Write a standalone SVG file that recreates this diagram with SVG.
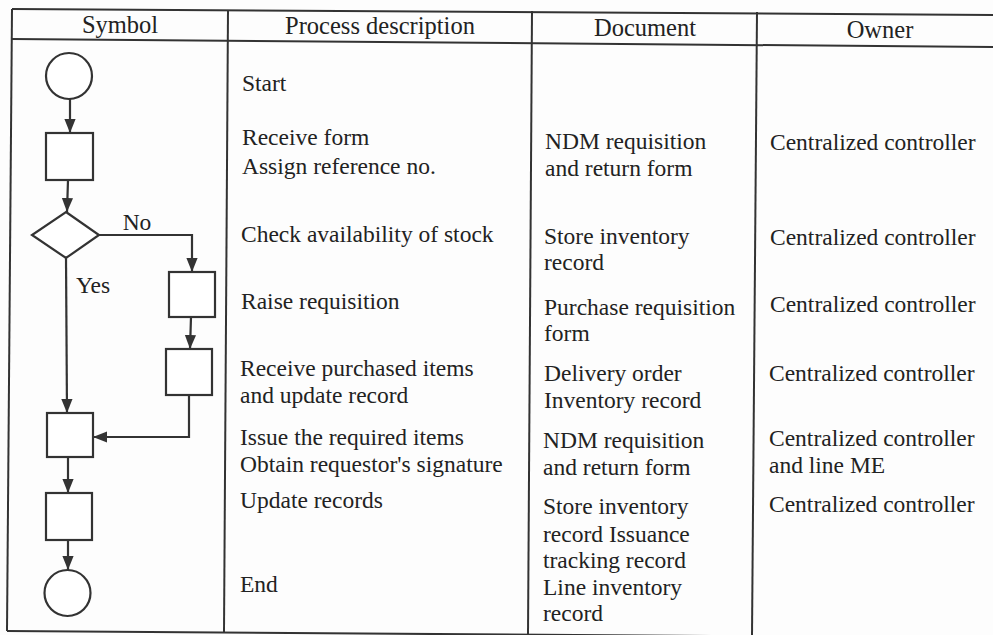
<svg xmlns="http://www.w3.org/2000/svg" width="993" height="635" viewBox="0 0 993 635">
<defs>
<marker id="ah" markerUnits="userSpaceOnUse" markerWidth="14" markerHeight="16" refX="15" refY="6" orient="auto" viewBox="0 0 15 12">
<path d="M0,0 L15,6 L0,12 Z" fill="#333"/>
</marker>
<style>
.grid{stroke:#333;stroke-width:2;fill:none}
.shape{stroke:#333;stroke-width:2.2;fill:#fff}
.conn{stroke:#333;stroke-width:2.2;fill:none}
.arr{marker-end:url(#ah)}
text{font-family:"Liberation Serif","Times New Roman",serif;fill:#222;font-size:23.5px}
.hd{font-size:24.5px;text-anchor:middle}
</style>
</defs>
<rect width="993" height="635" fill="#fdfdfd"/>
<g id="table">
<line class="grid" x1="12" y1="9" x2="993" y2="15"/>
<line class="grid" x1="12" y1="39" x2="993" y2="47"/>
<line class="grid" x1="7" y1="631" x2="993" y2="638"/>
<line class="grid" x1="12" y1="9" x2="7" y2="631"/>
<line class="grid" x1="228" y1="10" x2="224" y2="632"/>
<line class="grid" x1="532" y1="11" x2="528" y2="634"/>
<line class="grid" x1="757" y1="12" x2="752" y2="635"/>
</g>
<g id="headers">
<text class="hd" x="120" y="33">Symbol</text>
<text class="hd" x="380" y="34">Process description</text>
<text class="hd" x="645" y="36">Document</text>
<text class="hd" x="880" y="38">Owner</text>
</g>
<g id="connectors">
<line class="conn arr" x1="70" y1="99" x2="70" y2="133"/>
<line class="conn arr" x1="68" y1="180" x2="67" y2="212"/>
<polyline class="conn arr" points="99,235 192,235 192,272"/>
<line class="conn arr" x1="66" y1="258" x2="67" y2="413"/>
<line class="conn arr" x1="191" y1="317" x2="190" y2="349"/>
<polyline class="conn arr" points="189,395 189,437 93,437"/>
<line class="conn arr" x1="68" y1="457" x2="68" y2="493"/>
<line class="conn arr" x1="68" y1="540" x2="68" y2="570"/>
<text x="137" y="230" text-anchor="middle">No</text>
<text x="76" y="293">Yes</text>
</g>
<g id="n-start"><circle class="shape" cx="69" cy="76" r="23"/></g>
<g id="n-receive"><rect class="shape" x="46" y="133" width="47" height="47"/></g>
<g id="n-check"><polygon class="shape" points="66,212 99,235 66,258 32,235"/></g>
<g id="n-raise"><rect class="shape" x="169" y="272" width="46" height="45"/></g>
<g id="n-purchased"><rect class="shape" x="166" y="349" width="46" height="46"/></g>
<g id="n-issue"><rect class="shape" x="47" y="413" width="46" height="44"/></g>
<g id="n-update"><rect class="shape" x="46" y="493" width="46" height="47"/></g>
<g id="n-end"><circle class="shape" cx="67.5" cy="593" r="23"/></g>
<g id="process">
<text x="242" y="91">Start</text>
<text x="242" y="145">Receive form</text>
<text x="242" y="174">Assign reference no.</text>
<text x="241" y="242">Check availability of stock</text>
<text x="241" y="309">Raise requisition</text>
<text x="240" y="376">Receive purchased items</text>
<text x="240" y="403">and update record</text>
<text x="240" y="445">Issue the required items</text>
<text x="240" y="472">Obtain requestor's signature</text>
<text x="240" y="508">Update records</text>
<text x="240" y="592">End</text>
</g>
<g id="document">
<text x="545" y="149">NDM requisition</text>
<text x="545" y="176">and return form</text>
<text x="544" y="244">Store inventory</text>
<text x="544" y="270">record</text>
<text x="544" y="315">Purchase requisition</text>
<text x="544" y="341">form</text>
<text x="544" y="381">Delivery order</text>
<text x="544" y="408">Inventory record</text>
<text x="543" y="448">NDM requisition</text>
<text x="543" y="475">and return form</text>
<text x="543" y="514">Store inventory</text>
<text x="543" y="542">record Issuance</text>
<text x="543" y="568">tracking record</text>
<text x="543" y="595">Line inventory</text>
<text x="543" y="621">record</text>
</g>
<g id="owner">
<text x="770" y="150">Centralized controller</text>
<text x="770" y="245">Centralized controller</text>
<text x="770" y="312">Centralized controller</text>
<text x="769" y="381">Centralized controller</text>
<text x="769" y="446">Centralized controller</text>
<text x="769" y="473">and line ME</text>
<text x="769" y="512">Centralized controller</text>
</g>
</svg>
